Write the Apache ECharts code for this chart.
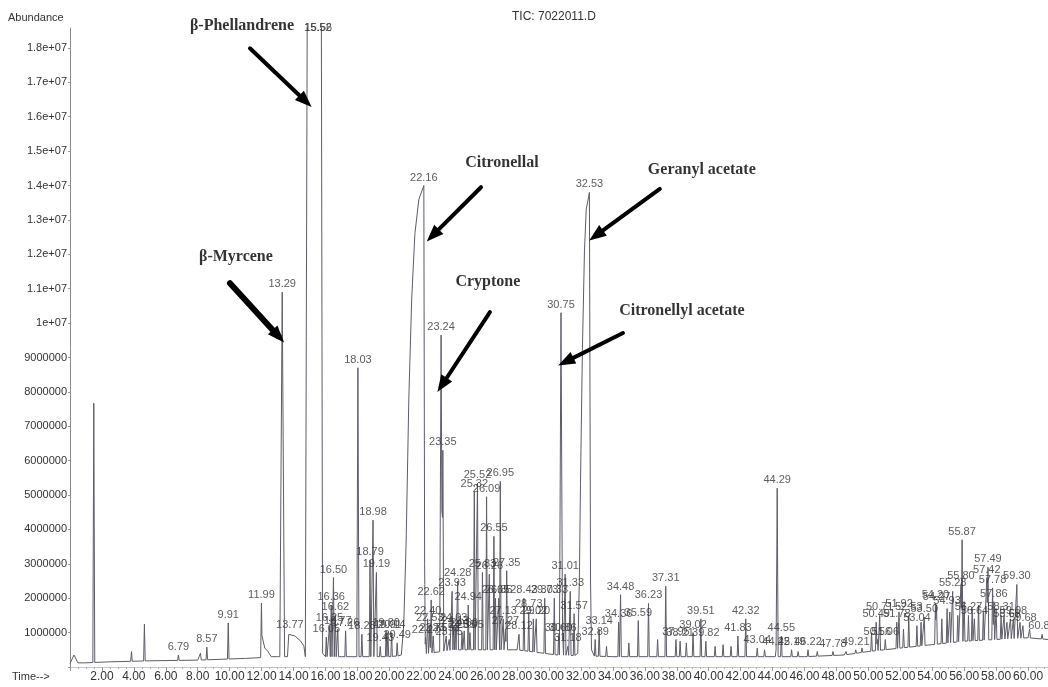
<!DOCTYPE html>
<html>
<head>
<meta charset="utf-8">
<script src="https://cdn.jsdelivr.net/npm/echarts@6/dist/echarts.min.js"></script>
<style>
  html, body { margin: 0; padding: 0; background: #fff; }
  #chart { width: 1048px; height: 687px; }
</style>
</head>
<body>
<div id="chart"></div>
<script>
// ---- Chromatogram data (retention time in min, abundance in millions) ----

// Labelled peaks: retention time and apex abundance
const peakTimes = [
  6.79, 8.57, 9.91, 11.99, 13.29, 13.77, 15.52, 15.56, 16.05, 16.25, 16.36, 16.50, 16.62, 16.77,
  17.26, 18.03, 18.28, 18.79, 18.98, 19.19, 19.43, 19.80, 19.91, 20.14, 20.49,
  22.16, 22.27, 22.40, 22.53, 22.62, 22.75, 23.24, 23.35, 23.56, 23.75, 23.93, 24.03, 24.13,
  24.28, 24.55, 24.69, 24.94, 25.05, 25.32, 25.52, 25.83, 26.09, 26.26, 26.55, 26.65, 26.85,
  26.95, 27.13, 27.27, 27.35, 28.12, 28.43, 28.73, 29.02, 29.20, 29.73, 30.33, 30.60, 30.75,
  30.86, 31.01, 31.18, 31.33, 31.57, 32.53, 32.89, 33.14, 34.36, 34.48, 35.59, 36.23, 37.31,
  37.95, 38.21, 39.02, 39.51, 39.82, 41.83, 42.32, 43.04, 44.22, 44.29, 44.55, 45.19, 46.22,
  47.78, 49.21, 50.49, 50.56, 50.71, 51.06, 51.78, 51.92, 52.53, 53.04, 53.50, 54.20, 54.27,
  54.93, 55.28, 55.80, 55.87, 56.27, 56.64, 57.42, 57.49, 57.78, 57.86, 58.31, 58.68, 59.08,
  59.30, 59.68, 60.88
];
const peakHeights = [
  0.35, 0.58, 1.28, 1.86, 10.9, 1.0, 22.0, 22.0, 0.87, 1.2, 1.8, 2.6, 1.5, 1.1,
  1.05, 8.7, 0.95, 3.1, 4.27, 2.75, 0.6, 1.05, 1.0, 1.0, 0.7,
  14.0, 0.85, 1.4, 1.2, 1.95, 0.9, 9.65, 6.3, 0.9, 0.8, 2.2, 1.2, 1.1,
  2.5, 1.0, 1.05, 1.8, 1.0, 5.1, 5.35, 2.75, 4.95, 2.7, 3.8, 2.0, 2.0,
  5.4, 1.4, 1.1, 2.8, 0.95, 2.0, 1.6, 1.4, 1.4, 2.0, 2.0, 0.9, 10.3,
  0.9, 2.7, 0.6, 2.2, 1.55, 13.8, 0.8, 1.1, 1.3, 2.1, 1.35, 1.85, 2.35,
  0.8, 0.75, 1.0, 1.4, 0.75, 0.9, 1.4, 0.55, 0.5, 5.2, 0.9, 0.5, 0.5,
  0.45, 0.5, 1.3, 0.8, 1.5, 0.8, 1.3, 1.6, 1.5, 1.2, 1.45, 1.85, 1.8,
  1.7, 2.2, 2.4, 3.7, 1.5, 1.4, 2.6, 2.9, 2.3, 1.9, 1.5, 1.3, 1.4,
  2.4, 1.2, 0.95
];

// Unlabelled peaks (solvent front and small peaks)
const minorTimes = [
  1.49, 3.85, 4.66, 8.17, 33.6, 35.0, 36.8, 38.6, 40.4, 40.9, 41.4, 43.5, 45.6, 46.8, 48.6,
  49.6, 50.2, 52.2, 53.3, 54.6, 55.1, 55.6, 56.0, 56.5, 56.9, 57.2, 58.0, 58.5, 58.9, 59.5, 60.1
];
const minorHeights = [
  7.67, 0.45, 1.25, 0.4, 0.6, 0.7, 0.8, 0.7, 0.6, 0.65, 0.6, 0.5, 0.45, 0.45, 0.45,
  0.55, 1.0, 1.1, 1.3, 1.4, 1.6, 1.5, 1.9, 1.7, 1.8, 1.6, 1.7, 1.5, 1.4, 1.3, 1.1
];

// Broad / overloaded peak outlines, as [time, abundance] points
const tail1199 = [[12.02, 0.9], [12.2, 0.55], [12.4, 0.45], [12.6, 0.3]];
const hump1377 = [[13.62, 0.3], [13.70, 0.95], [13.77, 1.0], [14.1, 0.9], [14.45, 0.75], [14.65, 0.6], [14.74, 0.25]];
const phellandreneOutline = [[14.80, 0.3], [14.86, 19.5], [15.52, 22.0], [15.56, 22.0], [15.74, 19.5], [15.82, 0.4]];
const citronellalOutline = [[20.75, 0.35], [20.90, 1.2], [21.05, 3.6], [21.22, 7.8], [21.40, 10.7], [21.60, 12.6], [21.85, 13.6], [22.16, 14.0], [22.21, 3.0], [22.25, 0.6]];
const geranylOutline = [[31.80, 0.4], [31.90, 2.5], [31.97, 5.3], [32.09, 9.2], [32.22, 12.1], [32.33, 13.3], [32.53, 13.8], [32.60, 2.5], [32.66, 0.5]];

// Baseline level along the run
const baseTimes = [0, 0.25, 0.5, 0.9, 2.5, 5, 8, 11, 13, 17, 20, 22.5, 24, 28, 30.5, 34, 38, 42, 46, 48.5, 50, 52, 54, 56, 58, 60, 61.25];
const baseValues = [0.1, 0.35, 0.12, 0.12, 0.15, 0.18, 0.2, 0.25, 0.3, 0.3, 0.3, 0.4, 0.5, 0.5, 0.35, 0.3, 0.3, 0.3, 0.3, 0.35, 0.45, 0.55, 0.65, 0.75, 0.8, 0.85, 0.8];

// Compound annotations: name, text anchor, arrow tail and arrow head
const compoundNames = ['β-Phellandrene', 'β-Myrcene', 'Citronellal', 'Cryptone', 'Citronellyl acetate', 'Geranyl acetate'];
const compoundTextAt = [[10.77, 18.63], [10.39, 11.92], [27.05, 14.65], [26.17, 11.19], [38.32, 10.35], [39.57, 14.45]];
const arrowFrom = [[11.27, 17.99], [10.02, 11.16], [25.74, 13.95], [26.30, 10.32], [34.63, 9.71], [36.94, 13.90]];
const arrowTo   = [[14.75, 16.45], [13.05, 9.62], [22.72, 12.55], [23.30, 8.20], [31.05, 8.88], [32.95, 12.55]];
const arrowWidths = [4, 6, 4, 4, 4, 4];

// Axis ranges
const xMin = 0, xMax = 61.25, xStep = 2;
const yMin = 0, yMax = 18.58, yStep = 1;

// ---- Trace assembly ----
const M = 1e6;
const narrowHalfWidth = 0.05;
const wideHalfWidth = { 13.29: 0.15, 18.03: 0.07, 23.24: 0.09, 23.35: 0.06, 30.75: 0.1, 44.29: 0.06, 1.49: 0.06 };

function lerpTable(xs, ys, t) {
  if (t <= xs[0]) return ys[0];
  for (let i = 1; i < xs.length; i++) {
    if (t <= xs[i]) {
      const f = (t - xs[i - 1]) / (xs[i] - xs[i - 1]);
      return ys[i - 1] + f * (ys[i] - ys[i - 1]);
    }
  }
  return ys[ys.length - 1];
}
const baseAt = t => lerpTable(baseTimes, baseValues, t);

const outlines = [tail1199, hump1377, phellandreneOutline, citronellalOutline, geranylOutline];
const spikes = [];
peakTimes.forEach((t, i) => spikes.push([t, peakHeights[i], wideHalfWidth[t] || narrowHalfWidth]));
minorTimes.forEach((t, i) => spikes.push([t, minorHeights[i], wideHalfWidth[t] || narrowHalfWidth]));

function outlineAt(o, t) {
  if (t < o[0][0] || t > o[o.length - 1][0]) return -Infinity;
  return lerpTable(o.map(p => p[0]), o.map(p => p[1]), t);
}
function traceAt(t) {
  let v = baseAt(t);
  for (const [rt, h, hw] of spikes) {
    const d = Math.abs(t - rt);
    if (d < hw) v = Math.max(v, baseAt(t) + (h - baseAt(rt)) * (1 - d / hw));
  }
  for (const o of outlines) v = Math.max(v, outlineAt(o, t));
  return v;
}

const keyTimes = new Set(baseTimes);
spikes.forEach(([rt, h, hw]) => { keyTimes.add(rt); keyTimes.add(+(rt - hw).toFixed(4)); keyTimes.add(+(rt + hw).toFixed(4)); });
outlines.forEach(o => o.forEach(p => keyTimes.add(p[0])));
const traceData = [...keyTimes].filter(t => t >= xMin && t <= xMax).sort((a, b) => a - b)
  .map(t => [t, traceAt(t) * M]);

const labelData = peakTimes.map((t, i) => {
  const h = peakHeights[i];
  if (h > yMax) {
    return { value: [t, yMax * M], label: { position: 'inside', offset: [0, 3] } };
  }
  return { value: [t, h * M] };
});

const annotationData = compoundNames.map((n, i) => ({ value: [compoundTextAt[i][0], compoundTextAt[i][1] * M], name: n }));
const arrowData = compoundNames.map((n, i) => [
  { coord: [arrowFrom[i][0], arrowFrom[i][1] * M], symbol: 'none', lineStyle: { width: arrowWidths[i] } },
  { coord: [arrowTo[i][0], arrowTo[i][1] * M], symbol: 'triangle', symbolSize: [13, 17] }
]);

function yLabel(v) {
  if (v === 0) return '';
  if (Math.abs(v / (yStep * M) - Math.round(v / (yStep * M))) > 1e-6) return '';
  if (v >= 1e7) {
    const m = v / 1e7;
    return (Math.abs(m - Math.round(m)) < 1e-9 ? String(Math.round(m)) : m.toFixed(1)) + 'e+07';
  }
  return String(Math.round(v));
}
function xLabel(v) {
  if (v === 0) return '';
  if (Math.abs(v / xStep - Math.round(v / xStep)) > 1e-6) return '';
  return v.toFixed(2);
}

const sansFont = "'Liberation Sans', Arial, sans-serif";
const chart = echarts.init(document.getElementById('chart'), null, { renderer: 'canvas' });
chart.setOption({
  backgroundColor: '#ffffff',
  animation: false,
  grid: { left: 70, right: 0, top: 28, bottom: 20, containLabel: false },
  xAxis: {
    type: 'value', min: xMin, max: xMax, interval: xStep,
    axisLine: { show: true, lineStyle: { color: '#c8c8c8', width: 1 } },
    axisTick: { show: true, length: 4, inside: false, lineStyle: { color: '#9a9a9a' } },
    minorTick: { show: true, splitNumber: 4, length: 2, lineStyle: { color: '#b0b0b0' } },
    axisLabel: { formatter: xLabel, color: '#333', fontFamily: sansFont, fontSize: 12, margin: 4, showMaxLabel: false },
    splitLine: { show: false }
  },
  yAxis: {
    type: 'value', min: yMin * M, max: yMax * M, interval: yStep * M,
    axisLine: { show: true, lineStyle: { color: '#8a8a8a', width: 1 } },
    axisTick: { show: true, length: 2, lineStyle: { color: '#9a9a9a' } },
    axisLabel: { formatter: yLabel, color: '#333', fontFamily: sansFont, fontSize: 11, margin: 3, showMaxLabel: false },
    splitLine: { show: false }
  },
  graphic: [
    { type: 'text', left: 8, top: 12, style: { text: 'Abundance', fill: '#333', font: '11px ' + sansFont } },
    { type: 'text', left: 12, top: 671, style: { text: 'Time-->', fill: '#333', font: '11px ' + sansFont } },
    { type: 'text', left: 512, top: 11, style: { text: 'TIC: 7022011.D', fill: '#333', font: '12px ' + sansFont } }
  ],
  series: [
    {
      name: 'TIC', type: 'line', data: traceData, showSymbol: false, symbol: 'none',
      clip: true, lineStyle: { color: '#5e5c68', width: 1 }, z: 2
    },
    {
      name: 'Retention times', type: 'scatter', data: labelData,
      symbol: 'circle', symbolSize: 1, itemStyle: { color: 'rgba(0,0,0,0)' }, clip: false,
      label: {
        show: true, position: 'top', distance: 2,
        formatter: p => p.value[0].toFixed(2),
        color: '#333', fontFamily: sansFont, fontSize: 11
      },
      labelLayout: { hideOverlap: false },
      z: 3
    },
    {
      name: 'Compounds', type: 'scatter', data: annotationData,
      symbol: 'circle', symbolSize: 1, itemStyle: { color: 'rgba(0,0,0,0)' }, clip: false,
      label: {
        show: true, position: 'inside', formatter: p => p.name,
        color: '#000', fontFamily: "'Liberation Serif', 'Times New Roman', serif",
        fontWeight: 'bold', fontSize: 16
      },
      markLine: {
        silent: true, animation: false,
        label: { show: false },
        lineStyle: { color: '#000', width: 4, type: 'solid', cap: 'round' },
        data: arrowData
      },
      z: 4
    }
  ]
});
</script>
</body>
</html>
